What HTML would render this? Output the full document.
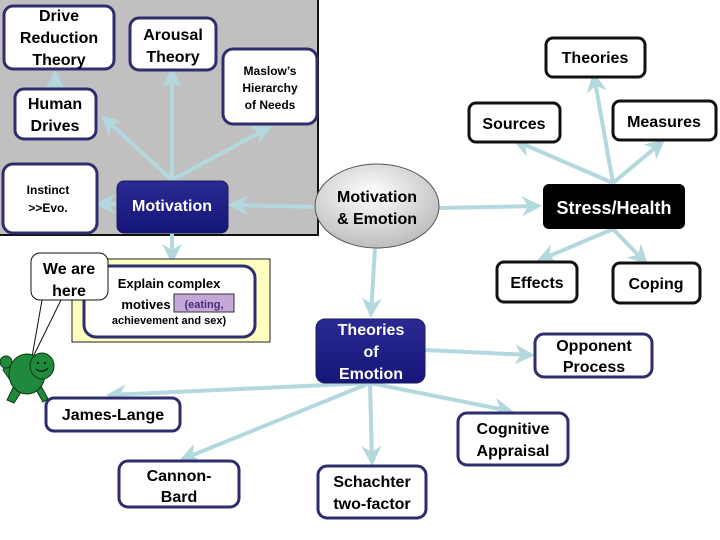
<!DOCTYPE html>
<html><head><meta charset="utf-8"><style>
html,body{margin:0;padding:0;background:#fff}
svg{display:block}
text{font-family:"Liberation Sans",Arial,sans-serif;font-weight:bold;text-anchor:middle}
</style></head><body>
<svg width="720" height="540" viewBox="0 0 720 540" xmlns="http://www.w3.org/2000/svg">
<defs>
<marker id="a" viewBox="0 0 10 10" refX="8" refY="5" markerWidth="5" markerHeight="5" orient="auto-start-reverse" markerUnits="strokeWidth">
<path d="M0,0 L10,5 L0,10 L3,5 Z" fill="#b3d8de"/></marker>
<linearGradient id="bl" x1="0" y1="0" x2="0" y2="1"><stop offset="0" stop-color="#2a2a90"/><stop offset="1" stop-color="#15157a"/></linearGradient>
<radialGradient id="el" cx="0.45" cy="0.35" r="0.7"><stop offset="0" stop-color="#ffffff"/><stop offset="1" stop-color="#b8b8b8"/></radialGradient>
</defs>
<rect x="0" y="0" width="318" height="235" fill="#c0c0c0"/>
<line x1="318" y1="0" x2="318" y2="236" stroke="#111" stroke-width="2"/>
<line x1="0" y1="235" x2="319" y2="235" stroke="#111" stroke-width="2"/>

<g stroke="#b3d8de" stroke-width="4" fill="none" marker-end="url(#a)">
<line x1="172" y1="180" x2="172" y2="72"/>
<line x1="172" y1="180" x2="104" y2="118"/>
<line x1="172" y1="180" x2="268" y2="128"/>
<line x1="55" y1="88" x2="55" y2="74"/>
<line x1="117" y1="204" x2="99" y2="204"/>
<line x1="315" y1="207" x2="232" y2="205"/>
<line x1="172" y1="233" x2="172" y2="260"/>
<line x1="438" y1="208" x2="538" y2="206"/>
<line x1="375" y1="248" x2="371" y2="314"/>
<line x1="613" y1="183" x2="594" y2="76"/>
<line x1="613" y1="183" x2="516" y2="141"/>
<line x1="613" y1="183" x2="662" y2="142"/>
<line x1="613" y1="229" x2="540" y2="260"/>
<line x1="613" y1="229" x2="645" y2="262"/>
<line x1="425" y1="350" x2="531" y2="355"/>
<line x1="370" y1="383" x2="110" y2="395"/>
<line x1="370" y1="383" x2="183" y2="459"/>
<line x1="370" y1="383" x2="510" y2="411"/>
<line x1="370" y1="383" x2="372" y2="462"/>
</g>

<g fill="#fff" stroke="#2e2e6e" stroke-width="3">
<rect x="4" y="6" width="110" height="63" rx="9"/>
<rect x="130" y="18" width="86" height="52" rx="9"/>
<rect x="223" y="49" width="94" height="75" rx="10"/>
<rect x="15" y="89" width="81" height="50" rx="9"/>
<rect x="3" y="164" width="94" height="69" rx="10"/>
</g>
<rect x="117" y="181" width="111" height="52" rx="7" fill="url(#bl)" stroke="#1a1a60"/>
<ellipse cx="377" cy="206" rx="62" ry="42" fill="url(#el)" stroke="#555" stroke-width="1"/>
<rect x="543" y="184" width="142" height="45" rx="6" fill="#000"/>

<g fill="#fff" stroke="#111" stroke-width="3">
<rect x="546" y="38" width="99" height="39" rx="7"/>
<rect x="469" y="103" width="91" height="39" rx="7"/>
<rect x="613" y="101" width="103" height="39" rx="7"/>
<rect x="497" y="262" width="80" height="40" rx="7"/>
<rect x="613" y="263" width="87" height="40" rx="7"/>
</g>

<rect x="72" y="259" width="198" height="83" fill="#ffffc0" stroke="#222" stroke-width="1"/>
<rect x="84" y="266" width="171" height="71" rx="12" fill="#fff" stroke="#2e2e6e" stroke-width="3"/>
<rect x="174" y="294" width="60" height="18" fill="#c3a8d8" stroke="#333" stroke-width="1"/>

<rect x="316" y="319" width="109" height="64" rx="9" fill="url(#bl)" stroke="#1a1a60"/>
<g fill="#fff" stroke="#2e2e6e" stroke-width="3">
<rect x="535" y="334" width="117" height="43" rx="9"/>
<rect x="458" y="413" width="110" height="52" rx="9"/>
<rect x="318" y="466" width="108" height="52" rx="9"/>
<rect x="46" y="398" width="134" height="33" rx="8"/>
<rect x="119" y="461" width="120" height="46" rx="9"/>
</g>

<!-- speech bubble -->
<path d="M42,300 L32,357 M61,300 L33,357" stroke="#111" stroke-width="1" fill="none"/>
<rect x="31" y="253" width="77" height="47" rx="9" fill="#fff" stroke="#111" stroke-width="1"/>
<!-- turtle -->
<g fill="#1f8a3c" stroke="#0a3a14" stroke-width="1">
<path d="M10,380 L3,370 L8,360 L15,372 Z"/>
<circle cx="6" cy="362" r="6"/>
<path d="M14,386 L7,400 L14,403 L23,389 Z"/>
<path d="M34,386 L43,402 L48,399 L40,384 Z"/>
<ellipse cx="27" cy="374" rx="18" ry="20"/>
<ellipse cx="42" cy="366" rx="12" ry="13"/>
</g>
<circle cx="38" cy="363" r="1" fill="#000"/><circle cx="45" cy="363" r="1" fill="#000"/>
<path d="M36,369 Q42,374 48,368" stroke="#000" fill="none" stroke-width="1"/>

<g fill="#000" font-size="16">
<text x="59" y="21">Drive</text><text x="59" y="43">Reduction</text><text x="59" y="65">Theory</text>
<text x="173" y="40">Arousal</text><text x="173" y="62">Theory</text>
<text x="55" y="109">Human</text><text x="55" y="131">Drives</text>
</g>
<g fill="#000" font-size="12">
<text x="270" y="75">Maslow’s</text><text x="270" y="92">Hierarchy</text><text x="270" y="109">of Needs</text>
<text x="48" y="194">Instinct</text><text x="48" y="212">&gt;&gt;Evo.</text>
</g>
<text x="172" y="211" font-size="16" fill="#fff">Motivation</text>
<text x="377" y="202" font-size="16">Motivation</text><text x="377" y="224" font-size="16">&amp; Emotion</text>
<text x="614" y="214" font-size="18" fill="#fff">Stress/Health</text>
<g font-size="16">
<text x="595" y="63">Theories</text>
<text x="514" y="129">Sources</text>
<text x="664" y="127">Measures</text>
<text x="537" y="288">Effects</text>
<text x="656" y="289">Coping</text>
</g>
<g font-size="16" style="font-weight:normal">
<text x="69" y="274">We are</text><text x="69" y="296">here</text>
</g>
<g font-size="13">
<text x="169" y="288">Explain complex</text>
<text x="146" y="309">motives</text>
</g>
<text x="204" y="308" font-size="11" fill="#4a2a7a">(eating,</text>
<text x="169" y="324" font-size="11">achievement and sex)</text>
<g font-size="16" fill="#fff">
<text x="371" y="335">Theories</text><text x="371" y="357">of</text><text x="371" y="379">Emotion</text>
</g>
<g font-size="16">
<text x="594" y="351">Opponent</text><text x="594" y="372">Process</text>
<text x="513" y="434">Cognitive</text><text x="513" y="456">Appraisal</text>
<text x="372" y="487">Schachter</text><text x="372" y="509">two-factor</text>
<text x="113" y="420">James-Lange</text>
<text x="179" y="481">Cannon-</text><text x="179" y="502">Bard</text>
</g>
</svg>
</body></html>
